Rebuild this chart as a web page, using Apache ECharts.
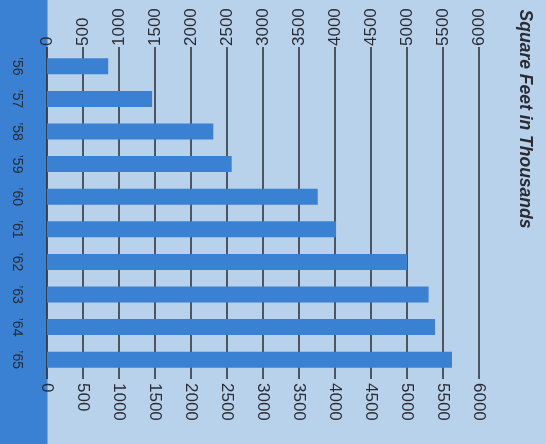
<!DOCTYPE html>
<html>
<head>
<meta charset="utf-8">
<style>
html,body{margin:0;padding:0;background:#b9d2eb;}
#c{width:546px;height:444px;}
</style>
<script src="https://cdn.jsdelivr.net/npm/echarts@6/dist/echarts.min.js"></script>
</head>
<body>
<div id="c"></div>
<script>
var years = ['\u201956','\u201957','\u201958','\u201959','\u201960','\u201961','\u201962','\u201963','\u201964','\u201965'];
var squareFeet = [850, 1460, 2310, 2565, 3760, 4015, 5000, 5300, 5390, 5625];
var axisTicks = [0, 500, 1000, 1500, 2000, 2500, 3000, 3500, 4000, 4500, 5000, 5500, 6000];
var titleText = 'Square Feet in Thousands';

var BLUE = '#3a80d3';
var LIGHT = '#b9d2eb';
var INK = '#2a2b33';
var FONT = '"Liberation Sans", Arial, sans-serif';

var chart = echarts.init(document.getElementById('c'), null, {renderer:'canvas'});

function valueAxis(pos, align, margin) {
  return {
    type: 'value',
    position: pos,
    min: axisTicks[0],
    max: axisTicks[axisTicks.length - 1],
    interval: axisTicks[1] - axisTicks[0],
    axisLine: {show: false},
    axisTick: {show: true, length: 3, lineStyle: {color: INK, width: 1.5}},
    splitLine: {show: pos === 'top', lineStyle: {color: INK, width: 1.5}},
    axisLabel: {
      rotate: -90,
      margin: margin,
      align: align,
      verticalAlign: 'middle',
      color: INK,
      fontFamily: FONT,
      fontSize: 17,
      formatter: function (v) { return String(v); }
    }
  };
}

chart.setOption({
  backgroundColor: LIGHT,
  animation: false,
  grid: {left: 47, right: 67, top: 50, bottom: 68},
  graphic: [
    {type: 'rect', z: -100, silent: true, shape: {x: 0, y: 0, width: 47.5, height: 444}, style: {fill: BLUE}},
    {type: 'text', x: 525, y: 119, rotation: -Math.PI / 2, silent: true,
     style: {text: titleText, fill: INK, font: 'italic bold 17.5px "Liberation Sans", Arial, sans-serif',
             align: 'center', verticalAlign: 'middle', textAlign: 'center', textVerticalAlign: 'middle'}}
  ],
  xAxis: [valueAxis('top', 'left', 4), valueAxis('bottom', 'left', 7)],
  yAxis: {
    type: 'category',
    data: years,
    inverse: true,
    axisLine: {show: false},
    axisTick: {show: false},
    splitLine: {show: false},
    axisLabel: {
      rotate: -90,
      margin: 30,
      align: 'center',
      verticalAlign: 'middle',
      color: INK,
      fontFamily: FONT,
      fontSize: 14
    }
  },
  series: [{
    type: 'bar',
    data: squareFeet,
    xAxisIndex: 0,
    barWidth: 16,
    itemStyle: {color: BLUE},
    z: 3
  }]
});
</script>
</body>
</html>
